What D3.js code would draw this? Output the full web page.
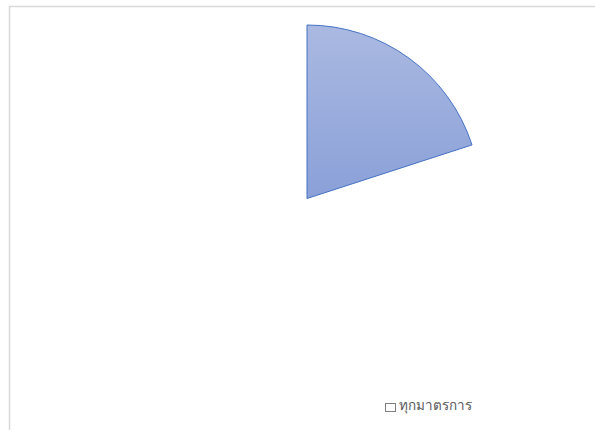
<!DOCTYPE html>
<html>
<head>
<meta charset="utf-8">
<script src="https://cdn.jsdelivr.net/npm/d3@7"></script>
<style>
  html, body { margin: 0; padding: 0; background: #fff; }
  svg { display: block; }
</style>
</head>
<body>
<svg id="chart" width="595" height="430"></svg>
<script>
// Pie shares; only the labelled share is listed in the legend.
const sliceLabels = [null, "ทุกมาตรการ"];
const sliceValues = [20, 80];
const sliceFilled = [true, false];

const width = 595, height = 430;
const svg = d3.select("#chart");

// Chart area frame
svg.append("rect")
  .attr("x", 9.5).attr("y", 6.5)
  .attr("width", 600).attr("height", 440)
  .attr("fill", "#fff")
  .attr("stroke", "#d9d9d9")
  .attr("stroke-width", 1.5);

const defs = svg.append("defs");
const grad = defs.append("linearGradient")
  .attr("id", "sliceFill")
  .attr("x1", 0).attr("y1", 0).attr("x2", 0).attr("y2", 1);
grad.append("stop").attr("offset", "0%").attr("stop-color", "#aab9e1");
grad.append("stop").attr("offset", "100%").attr("stop-color", "#8aa0d8");

const cx = 307, cy = 198.5, radius = 173.5;

const pie = d3.pie().sort(null).value(d => d.value);
const arc = d3.arc().innerRadius(0).outerRadius(radius);

const data = sliceValues.map((v, i) => ({ value: v, label: sliceLabels[i], filled: sliceFilled[i] }));

const g = svg.append("g").attr("transform", `translate(${cx},${cy})`);
g.selectAll("path")
  .data(pie(data))
  .join("path")
  .attr("d", arc)
  .attr("fill", d => d.data.filled ? "url(#sliceFill)" : "none")
  .attr("stroke", d => d.data.filled ? "#4472c4" : "none")
  .attr("stroke-width", 1)
  .attr("stroke-linejoin", "round");

// Legend
const legendItems = data.filter(d => d.label);
const legend = svg.append("g").attr("transform", "translate(385,403)");
legendItems.forEach((d, i) => {
  const item = legend.append("g").attr("transform", `translate(0,${i * 18})`);
  item.append("rect")
    .attr("x", 0.5).attr("y", 0.5)
    .attr("width", 10).attr("height", 8)
    .attr("fill", d.filled ? "url(#sliceFill)" : "#fff")
    .attr("stroke", "#7f7f7f")
    .attr("stroke-width", 1);
  item.append("text")
    .attr("x", 14).attr("y", 6.5)
    .attr("font-family", "Tahoma, 'Noto Sans', 'DejaVu Sans', sans-serif")
    .attr("font-size", 13.5)
    .attr("fill", "#595959")
    .text(d.label);
});
</script>
</body>
</html>
